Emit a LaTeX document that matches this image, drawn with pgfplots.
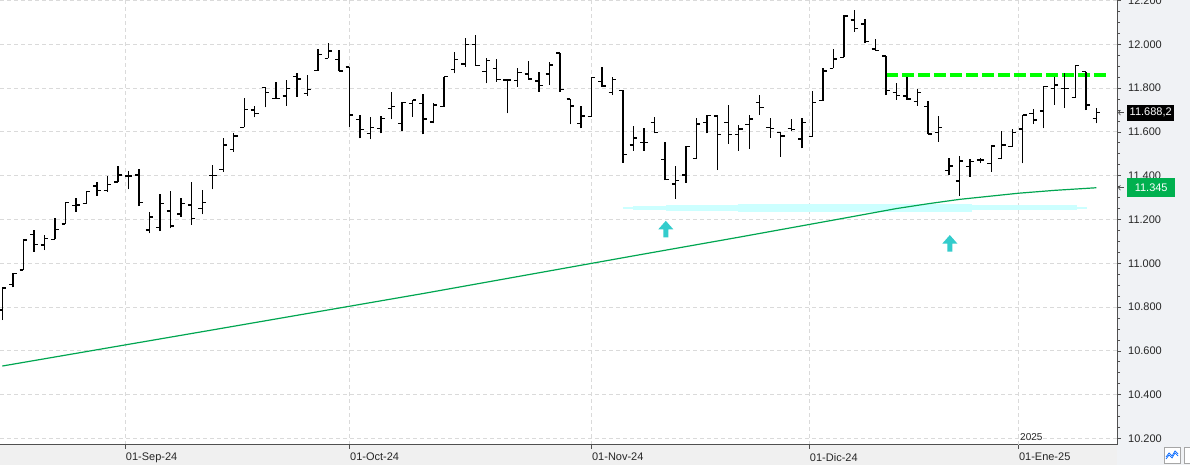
\documentclass[border=0pt]{standalone}
\usepackage{pgfplots}
\pgfplotsset{compat=1.18}
\usepackage{pgfplotstable}
\usepackage{fontspec}
\setmainfont{Liberation Sans}
\usetikzlibrary{arrows.meta}

\definecolor{axisgrey}{HTML}{505050}
\definecolor{gridgrey}{HTML}{DADADA}
\definecolor{janline}{HTML}{C4C4C4}
\definecolor{panel}{HTML}{F0F2F5}
\definecolor{magreen}{HTML}{00A651}
\definecolor{boxgreen}{HTML}{00B04F}
\definecolor{lime}{HTML}{00FF00}
\definecolor{band}{HTML}{CCFFFF}
\definecolor{arrowcyan}{HTML}{33CCCC}

% daily bars: index, open, high, low, close
\pgfplotstableread{
i o h l c
0 10787 10890 10741 10888
1 10904 10957 10890 10954
2 10969 11109 10969 11106
3 11132 11152 11053 11087
4 11083 11129 11060 11114
5 11109 11205 11109 11155
6 11179 11281 11179 11278
7 11263 11299 11235 11266
8 11274 11328 11271 11328
9 11353 11372 11308 11331
10 11331 11398 11327 11360
11 11372 11444 11372 11403
12 11398 11423 11338 11398
13 11403 11429 11261 11278
14 11152 11235 11137 11212
15 11164 11315 11147 11274
16 11239 11330 11160 11170
17 11225 11297 11212 11274
18 11266 11370 11175 11205
19 11251 11334 11223 11278
20 11400 11449 11338 11400
21 11429 11570 11418 11540
22 11520 11593 11509 11581
23 11621 11753 11621 11703
24 11700 11719 11666 11685
25 11802 11806 11712 11781
26 11753 11826 11753 11753
27 11764 11837 11719 11799
28 11852 11867 11760 11841
29 11776 11860 11765 11794
30 11879 11977 11879 11954
31 11936 12004 11936 11969
32 11931 11974 11878 11878
33 11897 11897 11623 11677
34 11657 11677 11570 11612
35 11593 11666 11566 11621
36 11616 11672 11593 11662
37 11708 11781 11657 11715
38 11639 11735 11605 11735
39 11730 11746 11669 11746
40 11730 11771 11589 11659
41 11646 11730 11639 11723
42 11715 11852 11715 11852
43 11886 11963 11867 11931
44 11910 12027 11897 12000
45 12000 12042 11902 11902
46 11875 11936 11822 11925
47 11890 11931 11829 11840
48 11837 11837 11685 11837
49 11834 11890 11806 11870
50 11864 11925 11840 11841
51 11832 11875 11783 11811
52 11864 11918 11814 11905
53 11961 11961 11783 11794
54 11750 11750 11634 11718
55 11639 11718 11616 11672
56 11669 11849 11669 11849
57 11829 11897 11806 11809
58 11781 11849 11768 11840
59 11788 11791 11459 11498
60 11540 11627 11514 11572
61 11552 11616 11514 11552
62 11644 11666 11593 11596
63 11475 11552 11380 11383
64 11362 11444 11295 11377
65 11403 11535 11368 11532
66 11479 11662 11476 11636
67 11644 11677 11593 11674
68 11672 11677 11426 11589
69 11644 11723 11545 11589
70 11589 11631 11514 11613
71 11634 11677 11522 11659
72 11733 11768 11677 11712
73 11619 11662 11573 11616
74 11598 11601 11486 11581
75 11616 11659 11604 11612
76 11567 11662 11525 11642
77 11578 11787 11578 11735
78 11742 11890 11742 11878
79 11890 11978 11890 11933
80 11940 12134 11940 12130
81 12111 12156 12057 12073
82 12092 12115 12004 12012
83 11978 12023 11971 11971
84 11946 11946 11768 11788
85 11781 11822 11746 11765
86 11764 11849 11746 11750
87 11738 11794 11719 11781
88 11715 11741 11590 11590
89 11598 11672 11555 11619
90 11423 11479 11403 11445
91 11376 11490 11307 11467
92 11441 11475 11395 11464
93 11472 11482 11456 11472
94 11456 11535 11418 11535
95 11479 11604 11475 11540
96 11532 11612 11532 11596
97 11613 11677 11456 11677
98 11685 11703 11636 11654
99 11695 11809 11616 11806
100 11799 11852 11723 11814
101 11799 11870 11708 11799
102 11756 11905 11756 11902
103 11875 11875 11700 11723
104 11662 11708 11639 11688
}\ohlc

% moving average
\pgfplotstableread{
i v
0 10531
20 10696
40 10862
60 11034
70 11119
80 11206
85 11250
88 11272
91 11292
94 11307
96.6 11320
100 11333
104 11345
}\mavg

\pgfdeclareplotmark{otick}{%
  \pgfpathmoveto{\pgfqpoint{-3.8pt}{0pt}}%
  \pgfpathlineto{\pgfqpoint{0pt}{0pt}}%
  \pgfusepathqstroke}
\pgfdeclareplotmark{ctick}{%
  \pgfpathmoveto{\pgfqpoint{0pt}{0pt}}%
  \pgfpathlineto{\pgfqpoint{3.8pt}{0pt}}%
  \pgfusepathqstroke}
\pgfdeclareplotmark{uparrow}{%
  \pgfpathmoveto{\pgfqpoint{0pt}{0pt}}%
  \pgfpathlineto{\pgfqpoint{7.5pt}{-8.5pt}}%
  \pgfpathlineto{\pgfqpoint{2.5pt}{-8.5pt}}%
  \pgfpathlineto{\pgfqpoint{2.5pt}{-16.5pt}}%
  \pgfpathlineto{\pgfqpoint{-2.5pt}{-16.5pt}}%
  \pgfpathlineto{\pgfqpoint{-2.5pt}{-8.5pt}}%
  \pgfpathlineto{\pgfqpoint{-7.5pt}{-8.5pt}}%
  \pgfpathclose
  \pgfusepathqfill}

\begin{document}
\begin{tikzpicture}[font=\fontsize{11pt}{13pt}\selectfont]
\fill[panel] (1117pt,0pt) rectangle (1190pt,465pt);
\fill[black!6] (0pt,0pt) rectangle (1117pt,20pt);

\begin{axis}[
  at={(0pt,20pt)}, anchor=south west,
  scale only axis, width=1117pt, height=445pt,
  xmin=-0.22, xmax=105.96, ymin=10170.4, ymax=12202.3,
  clip mode=individual,
  axis background/.style={fill=white},
  axis x line*=bottom, axis y line*=right,
  axis line style={draw=axisgrey, line width=1pt, -},
  xmajorgrids, ymajorgrids,
  major grid style={draw=gridgrey, line width=0.9pt, dash pattern=on 4pt off 3pt},
  tick align=outside,
  major tick length=4pt, minor tick length=3pt,
  tick style={draw=axisgrey, line width=0.8pt},
  minor y tick num=3,
  xtick={11.69,33,56,76.71},
  xticklabels={01-Sep-24,01-Oct-24,01-Nov-24,01-Dic-24},
  extra x ticks={96.58},
  extra x tick labels={01-Ene-25},
  extra x tick style={grid style={draw=janline, line width=1pt, dash pattern=on 9pt off 4pt}},
  xticklabel style={anchor=north west, inner sep=0pt, xshift=0.5pt, yshift=-4pt, text=black!85},
  ytick={10200,10400,...,12200},
  yticklabels={10.200,10.400,10.600,10.800,11.000,11.200,11.400,11.600,11.800,12.000,12.200},
  yticklabel style={anchor=west, inner sep=0pt, xshift=7pt, text=black!85},
]
% support band
\addplot[band, line width=2pt, forget plot] coordinates {(59.0,11254) (59.95,11254)};
\addplot[band, line width=4pt, forget plot] coordinates {(59.95,11254) (63.1,11254)};
\addplot[band, line width=5.7pt, forget plot] coordinates {(63.1,11253) (69.9,11253)};
\addplot[band, line width=7.7pt, forget plot] coordinates {(69.9,11252) (92.2,11252)};
\addplot[band, line width=5pt, forget plot] coordinates {(92.2,11254) (102.2,11254)};
\addplot[band, line width=2.3pt, forget plot] coordinates {(102.2,11254) (103.1,11254)};

% moving average
\addplot[magreen, line width=1.2pt, forget plot] table[x=i, y=v] {\mavg};

% resistance
\addplot[lime, line width=4pt, dash pattern=on 12pt off 4pt, forget plot]
  coordinates {(84.0,11860) (104.9,11860)};

% bars: high-low range, open to the left, close to the right
\addplot[draw=none, forget plot,
  error bars/.cd, y dir=plus, y explicit, error mark=none,
  error bar style={draw=black, solid, line width=1.35pt}]
  table[x=i, y=l, y error expr=\thisrow{h}-\thisrow{l}] {\ohlc};
\addplot[only marks, mark=otick, black, line width=1.35pt, forget plot]
  table[x=i, y=o] {\ohlc};
\addplot[only marks, mark=ctick, black, line width=1.35pt, forget plot]
  table[x=i, y=c] {\ohlc};

% arrows
\addplot[only marks, mark=uparrow, arrowcyan, forget plot]
  coordinates {(63.07,11194) (90.07,11129)};

\node[anchor=west, inner sep=0pt, font=\fontsize{10pt}{12pt}\selectfont, text=black!85]
  at (axis cs:96.58,10208) {\,2025};

\node[anchor=west, fill=black, text=white, inner sep=0pt, minimum width=47pt, minimum height=16pt]
  (p1) at (axis cs:105.96,11688.2) [xshift=10pt] {11.688,2};
\node[anchor=west, fill=boxgreen, text=white, inner sep=0pt, minimum width=48pt, minimum height=19pt]
  (p2) at (axis cs:105.96,11345) [xshift=10pt] {11.345};
\draw[axisgrey, line width=0.7pt, -{Straight Barb[length=2pt, width=5pt]}]
  ([xshift=-3pt]p1.west) -- ([xshift=-9pt]p1.west);
\draw[axisgrey, line width=0.7pt, -{Straight Barb[length=2pt, width=5pt]}]
  ([xshift=-3pt]p2.west) -- ([xshift=-9pt]p2.west);
\end{axis}

% small chart-type buttons at the bottom right corner
\draw[black!35, fill=white] (1164pt,2pt) rectangle (1180pt,18pt);
\draw[blue!60!cyan, line width=0.7pt] (1166pt,8pt) -- (1169pt,12pt) -- (1172pt,9pt) -- (1175pt,14pt) -- (1178pt,11pt);
\draw[blue!60!cyan, line width=0.7pt] (1166pt,6pt) -- (1169pt,10pt) -- (1172pt,7pt) -- (1175pt,12pt) -- (1178pt,9pt);
\draw[black!35, fill=white] (1184pt,2pt) rectangle (1196pt,18pt);

\pgfresetboundingbox
\path[use as bounding box] (0pt,0pt) rectangle (1190pt,465pt);
\end{tikzpicture}
\end{document}
